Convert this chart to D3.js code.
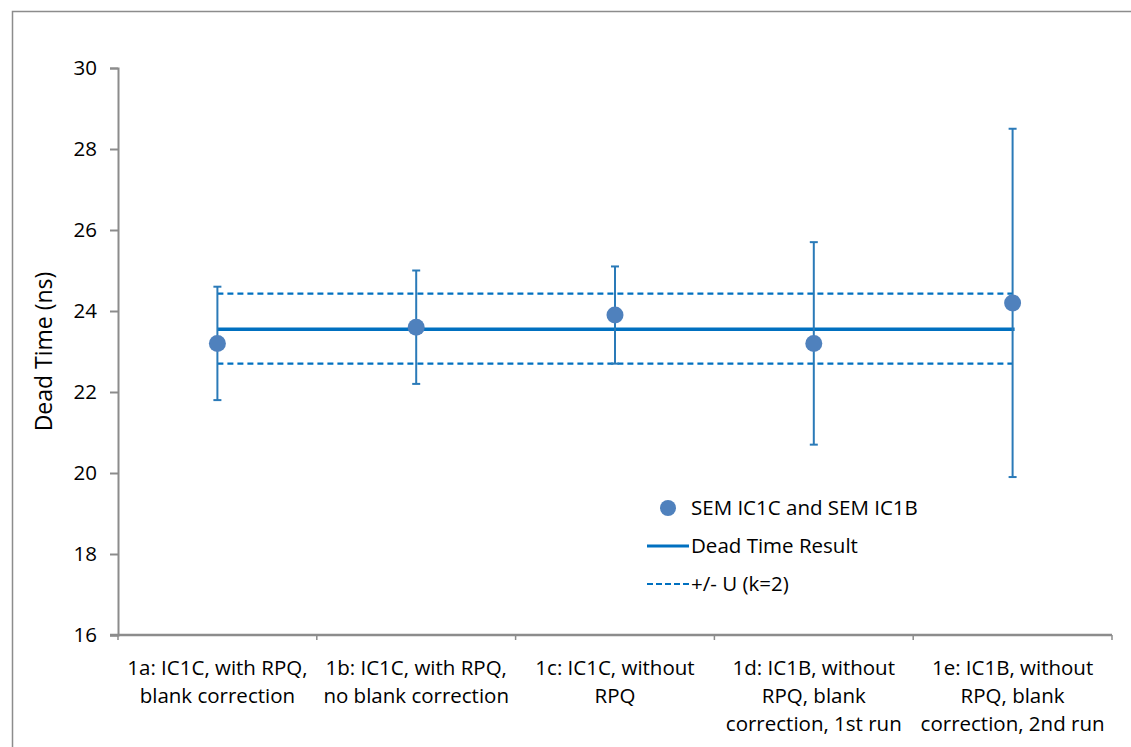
<!DOCTYPE html>
<html>
<head>
<meta charset="utf-8">
<script src="https://cdn.jsdelivr.net/npm/d3@7"></script>
<style>
  body { margin: 0; background: #fff; }
  text { font-family: "Open Sans", "Noto Sans", sans-serif; }
</style>
</head>
<body>
<svg id="chart" width="1131" height="747"></svg>
<script>
// data
const categories = [
    ["1a: IC1C, with RPQ,", "blank correction"],
    ["1b: IC1C, with RPQ,", "no blank correction"],
    ["1c: IC1C, without", "RPQ"],
    ["1d: IC1B, without", "RPQ, blank", "correction, 1st run"],
    ["1e: IC1B, without", "RPQ, blank", "correction, 2nd run"]
]
const values = [23.2, 23.6, 23.9, 23.2, 24.2]
const errLow = [21.8, 22.2, 22.7, 20.7, 19.9]
const errHigh = [24.6, 25.0, 25.1, 25.7, 28.5]
const result = 23.55
const uLow = 22.7
const uHigh = 24.43
const yTicks = [16, 18, 20, 22, 24, 26, 28, 30]
const legendLabels = ["SEM IC1C and SEM IC1B", "Dead Time Result", "+/- U (k=2)"]

const svg = d3.select("#chart")
const LEFT = 118, RIGHT = 1112, TOP = 68, BOTTOM = 635
const DOT = "#4f81bd", LINE = "#0070c0", ERR = "#2a7ab8", AXIS = "#8c8c8c"
const FS = "20.5px"

// outer frame (runs off the right/bottom edge like the source)
svg.append("path")
    .attr("d", "M12.5,760 L12.5,11.5 L1140,11.5")
    .style("fill", "none")
    .style("stroke", AXIS)
    .style("stroke-width", 1.5)

let xs = d3.scaleBand()
    .domain(d3.range(categories.length))
    .range([LEFT, RIGHT])
    .padding(0)
let ys = d3.scaleLinear()
    .domain([16, 30])
    .range([BOTTOM, TOP])
const cx = i => xs(i) + xs.bandwidth() / 2

// y axis
let yAxis = svg.append("g")
    .attr("transform", `translate(${LEFT},0)`)
    .call(d3.axisLeft(ys).tickValues(yTicks).tickSize(8).tickPadding(13))
yAxis.select(".domain").style("stroke", AXIS).style("stroke-width", 2)
yAxis.selectAll(".tick line").style("stroke", AXIS).style("stroke-width", 2)
yAxis.selectAll(".tick text").style("font-size", FS).style("fill", "#000")

// x axis
let xTickPos = d3.range(categories.length + 1).map(i => LEFT + i * xs.bandwidth())
let xAxis = svg.append("g")
xAxis.append("line")
    .attr("x1", LEFT - 8).attr("x2", RIGHT)
    .attr("y1", BOTTOM).attr("y2", BOTTOM)
    .style("stroke", AXIS).style("stroke-width", 2.5)
xAxis.selectAll(".xt")
    .data(xTickPos)
    .enter()
    .append("line")
    .attr("x1", d => d).attr("x2", d => d)
    .attr("y1", BOTTOM).attr("y2", BOTTOM + 5)
    .style("stroke", AXIS).style("stroke-width", 1.5)

categories.forEach((lines, i) => {
    let t = svg.append("text")
        .attr("x", cx(i))
        .attr("y", 675)
        .style("text-anchor", "middle")
        .style("font-size", FS)
        .style("fill", "#000")
    lines.forEach((ln, k) => {
        t.append("tspan")
            .attr("x", cx(i))
            .attr("dy", k === 0 ? 0 : 28)
            .text(ln)
    })
})

// y label
svg.append("text")
    .text("Dead Time (ns)")
    .attr("transform", `translate(52,${(TOP + BOTTOM) / 2}) rotate(-90)`)
    .style("text-anchor", "middle")
    .style("font-size", "23px")
    .style("fill", "#000")

// reference lines
const x0 = cx(0), x1 = cx(categories.length - 1)
;[uHigh, uLow].forEach(v => {
    svg.append("line")
        .attr("x1", x0).attr("x2", x1)
        .attr("y1", ys(v)).attr("y2", ys(v))
        .style("stroke", LINE)
        .style("stroke-width", 2.2)
        .style("stroke-dasharray", "6,4")
})
svg.append("line")
    .attr("x1", x0).attr("x2", x1 + 2)
    .attr("y1", ys(result)).attr("y2", ys(result))
    .style("stroke", LINE)
    .style("stroke-width", 3.5)

// error bars
let eb = svg.selectAll(".eb")
    .data(values.map((v, i) => ({ i, lo: errLow[i], hi: errHigh[i] })))
    .enter()
    .append("g")
eb.append("line")
    .attr("x1", d => cx(d.i)).attr("x2", d => cx(d.i))
    .attr("y1", d => ys(d.lo)).attr("y2", d => ys(d.hi))
    .style("stroke", ERR).style("stroke-width", 2)
eb.selectAll(".cap")
    .data(d => [{ i: d.i, v: d.lo }, { i: d.i, v: d.hi }])
    .enter()
    .append("line")
    .attr("x1", d => cx(d.i) - 4).attr("x2", d => cx(d.i) + 4)
    .attr("y1", d => ys(d.v)).attr("y2", d => ys(d.v))
    .style("stroke", ERR).style("stroke-width", 2)

// points
svg.selectAll(".pt")
    .data(values)
    .enter()
    .append("circle")
    .attr("cx", (d, i) => cx(i))
    .attr("cy", d => ys(d))
    .attr("r", 8.5)
    .style("fill", DOT)

// legend
const LX = 668, LY = 508, LSTEP = 38
let lg = svg.append("g")
lg.append("circle")
    .attr("cx", LX).attr("cy", LY).attr("r", 8)
    .style("fill", DOT)
lg.append("line")
    .attr("x1", 647).attr("x2", 689)
    .attr("y1", LY + LSTEP).attr("y2", LY + LSTEP)
    .style("stroke", LINE).style("stroke-width", 3)
lg.append("line")
    .attr("x1", 647).attr("x2", 689)
    .attr("y1", LY + 2 * LSTEP).attr("y2", LY + 2 * LSTEP)
    .style("stroke", LINE).style("stroke-width", 2.2)
    .style("stroke-dasharray", "6,3")
legendLabels.forEach((s, k) => {
    lg.append("text")
        .text(s)
        .attr("x", 691)
        .attr("y", LY + k * LSTEP)
        .attr("dy", "0.35em")
        .style("font-size", FS)
        .style("fill", "#000")
})
</script>
</body>
</html>
